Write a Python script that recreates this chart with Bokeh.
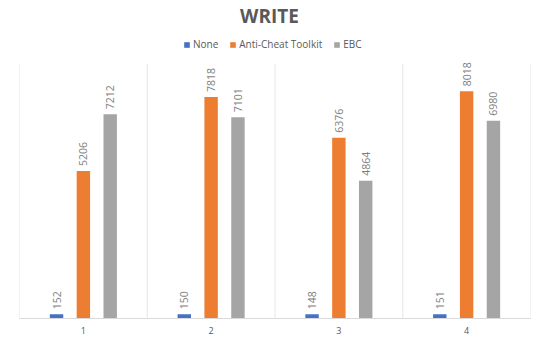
from math import pi
from bokeh.plotting import figure
from bokeh.models import ColumnDataSource, Legend, LegendItem, LabelSet, Label, FixedTicker
from bokeh.core.properties import value
from bokeh.transform import dodge
from bokeh.embed import file_html
from bokeh.resources import INLINE

categories = ["1", "2", "3", "4"]
none_vals = [152, 150, 148, 151]
act_vals = [5206, 7818, 6376, 8018]
ebc_vals = [7212, 7101, 4864, 6980]
series_names = ["None", "Anti-Cheat Toolkit", "EBC"]
colors = ["#4472C4", "#ED7D31", "#A5A5A5"]
y_max = 9000

xs = [i + 1 for i in range(len(categories))]
src = ColumnDataSource(dict(x=xs, none=none_vals, act=act_vals, ebc=ebc_vals,
                            none_t=[str(v) for v in none_vals],
                            act_t=[str(v) for v in act_vals],
                            ebc_t=[str(v) for v in ebc_vals]))
bounds = [i + 0.5 for i in range(len(categories) + 1)]
grid_src = ColumnDataSource(dict(x=bounds, y0=[0] * len(bounds), y1=[y_max] * len(bounds)))

FONT = "Open Sans"
W, H = 537, 337
BOTTOM = 19
FH = H - BOTTOM           # frame height (frame reaches the top of the canvas)
PLOT_H = 255              # pixels used by 0..y_max
y_end = y_max * FH / PLOT_H

p = figure(width=W, height=H, x_range=(0.5, 4.5), y_range=(0, y_end),
           toolbar_location=None, output_backend="svg",
           min_border_left=19, min_border_right=7, min_border_bottom=BOTTOM, min_border_top=0,
           outline_line_color=None)

# vertical category separators
p.segment(x0="x", x1="x", y0="y0", y1="y1", source=grid_src, line_color="#E6E6E6", line_width=1)

title = Label(x=250, y=FH - 15, x_units="screen", y_units="screen", text="WRITE",
              text_align="center", text_baseline="middle", text_font=FONT,
              text_font_size="19px", text_font_style="bold", text_color="#595959")
p.add_layout(title)

offsets = [-0.21, 0.0, 0.21]
fields = ["none", "act", "ebc"]
renderers = []
for off, f, c in zip(offsets, fields, colors):
    r = p.vbar(x=dodge("x", off, range=p.x_range), top=f, width=0.105, source=src,
               fill_color=c, line_color=None)
    renderers.append(r)
    lbl = LabelSet(x=dodge("x", off, range=p.x_range), y=f, text=f + "_t", source=src,
                   angle=pi / 2, y_offset=5, x_offset=0, text_align="left", text_baseline="middle",
                   text_font=value(FONT), text_font_size="10.5px", text_color="#7F7F7F")
    p.add_layout(lbl)

legend = Legend(items=[LegendItem(label=n, renderers=[r]) for n, r in zip(series_names, renderers)],
                orientation="horizontal", location=(164, FH - 51),
                label_text_font=FONT, label_text_font_size="10px", label_text_color="#595959",
                glyph_width=7, glyph_height=7, label_standoff=3, spacing=11,
                label_height=10, border_line_color=None, background_fill_alpha=0, padding=2, margin=0)
p.add_layout(legend)

p.yaxis.visible = False
p.xgrid.grid_line_color = None
p.ygrid.grid_line_color = None
p.xaxis.ticker = FixedTicker(ticks=xs)
p.xaxis.major_label_overrides = {x: c for x, c in zip(xs, categories)}
p.xaxis.major_tick_line_color = None
p.xaxis.major_tick_out = 0
p.xaxis.major_tick_in = 0
p.xaxis.minor_tick_line_color = None
p.xaxis.axis_line_color = "#D9D9D9"
p.xaxis.major_label_text_font = FONT
p.xaxis.major_label_text_font_size = "9px"
p.xaxis.major_label_text_color = "#595959"
p.xaxis.major_label_standoff = 8

open("out.html", "w").write(file_html(p, INLINE))
